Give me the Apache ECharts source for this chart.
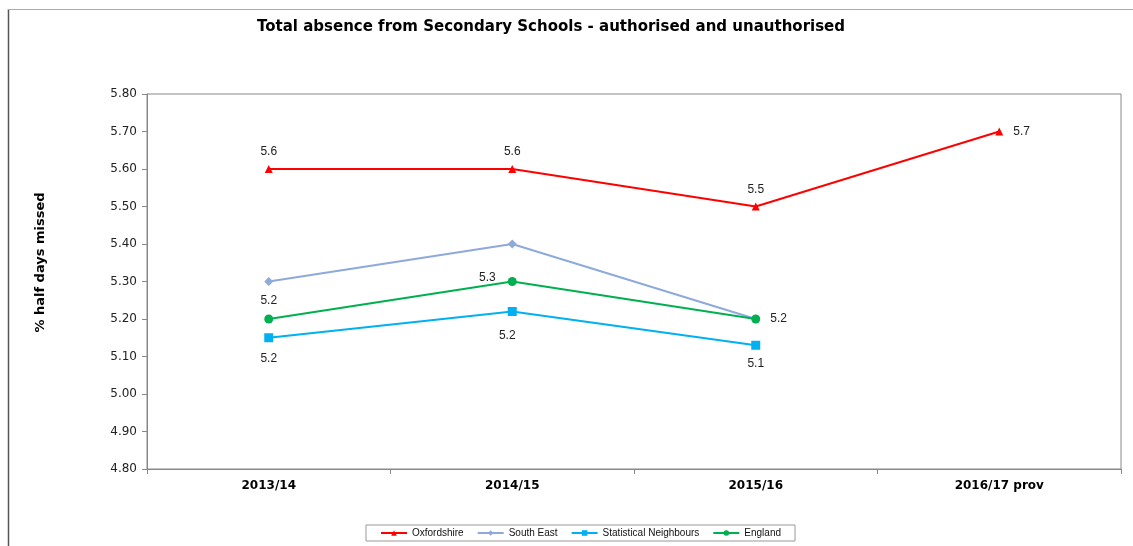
<!DOCTYPE html>
<html>
<head>
<meta charset="utf-8">
<script src="https://cdn.jsdelivr.net/npm/echarts@6/dist/echarts.min.js"></script>
<style>
html,body{margin:0;padding:0;background:#fff;}
#c{width:1133px;height:546px;}
</style>
</head>
<body>
<div id="c"></div>
<script>
const categories = ['2013/14', '2014/15', '2015/16', '2016/17 prov'];
const oxfordshire = [5.6, 5.6, 5.5, 5.7];
const southEast = [5.3, 5.4, 5.2, null];
const statNeighbours = [5.15, 5.22, 5.13, null];
const england = [5.2, 5.3, 5.2, null];
const seriesNames = ['Oxfordshire', 'South East', 'Statistical Neighbours', 'England'];
const labelText = {
  oxfordshire: ['5.6', '5.6', '5.5', '5.7'],
  statNeighbours: ['5.2', '5.2', '5.1'],
  england: ['5.2', '5.3', '5.2']
};

const chart = echarts.init(document.getElementById('c'), null, {renderer: 'canvas'});
const lblBase = {show: true, color: '#222', fontFamily: 'Liberation Sans, Arial', fontSize: 12};

function withLabels(values, texts, placements) {
  return values.map((v, i) => {
    if (v === null) return null;
    const p = placements[i];
    if (!p) return v;
    return {value: v, label: Object.assign({}, lblBase, {formatter: texts[i]}, p)};
  });
}

chart.setOption({
  animation: false,
  backgroundColor: '#fff',
  title: {
    text: 'Total absence from Secondary Schools - authorised and unauthorised',
    left: 546, top: 15, textAlign: 'center',
    textStyle: {fontFamily: 'DejaVu Sans', fontWeight: 'bold', fontSize: 15, color: '#000'}
  },
  graphic: [
    {type: 'line', shape: {x1: 8.5, y1: 9, x2: 8.5, y2: 546}, style: {stroke: '#555', lineWidth: 1.5}},
    {type: 'line', shape: {x1: 8, y1: 9.5, x2: 1133, y2: 9.5}, style: {stroke: '#aaa', lineWidth: 1}}
  ],
  legend: {
    data: seriesNames,
    left: 366, top: 525,
    itemWidth: 26, itemHeight: 7, itemGap: 13,
    borderColor: '#999', borderWidth: 1, padding: [3, 14, 3, 14],
    textStyle: {fontFamily: 'Liberation Sans, Arial', fontSize: 10, color: '#111'}
  },
  grid: {left: 147, top: 94, right: 12, bottom: 77, show: true, borderColor: '#888', borderWidth: 1},
  xAxis: {
    type: 'category', data: categories, boundaryGap: true,
    axisLine: {lineStyle: {color: '#888'}},
    axisTick: {show: true, length: 5, lineStyle: {color: '#888'}},
    axisLabel: {fontFamily: 'DejaVu Sans', fontWeight: 'bold', fontSize: 12, color: '#000', margin: 11}
  },
  yAxis: {
    type: 'value', min: 4.8, max: 5.8, interval: 0.1,
    name: '% half days missed', nameLocation: 'middle', nameGap: 100,
    nameTextStyle: {fontFamily: 'DejaVu Sans', fontWeight: 'bold', fontSize: 13, color: '#000', padding: [0, 0, 0, 38]},
    axisLine: {show: true, lineStyle: {color: '#888'}},
    axisTick: {show: true, length: 5, lineStyle: {color: '#888'}},
    splitLine: {show: false},
    axisLabel: {fontFamily: 'DejaVu Sans', fontSize: 12, color: '#222', margin: 10,
      formatter: v => v.toFixed(2)}
  },
  series: [
    {
      name: seriesNames[0], type: 'line', color: '#FF0000',
      symbol: 'triangle', symbolSize: 8, lineStyle: {width: 2},
      data: withLabels(oxfordshire, labelText.oxfordshire, [
        {position: 'top', distance: 7}, {position: 'top', distance: 7},
        {position: 'top', distance: 7}, {position: 'right', distance: 10}
      ])
    },
    {
      name: seriesNames[1], type: 'line', color: '#8EA9DB',
      symbol: 'diamond', symbolSize: 9, lineStyle: {width: 2},
      data: southEast
    },
    {
      name: seriesNames[2], type: 'line', color: '#00B0F0',
      symbol: 'rect', symbolSize: 9, lineStyle: {width: 2},
      data: withLabels(statNeighbours, labelText.statNeighbours, [
        {position: 'bottom', distance: 10}, {position: 'bottom', distance: 14, offset: [-5, 0]},
        {position: 'bottom', distance: 8}
      ])
    },
    {
      name: seriesNames[3], type: 'line', color: '#00B050',
      symbol: 'circle', symbolSize: 9, lineStyle: {width: 2},
      data: withLabels(england, labelText.england, [
        {position: 'top', distance: 8}, {position: 'left', distance: 12, offset: [0, -4]},
        {position: 'right', distance: 10}
      ])
    }
  ]
});
</script>
</body>
</html>
